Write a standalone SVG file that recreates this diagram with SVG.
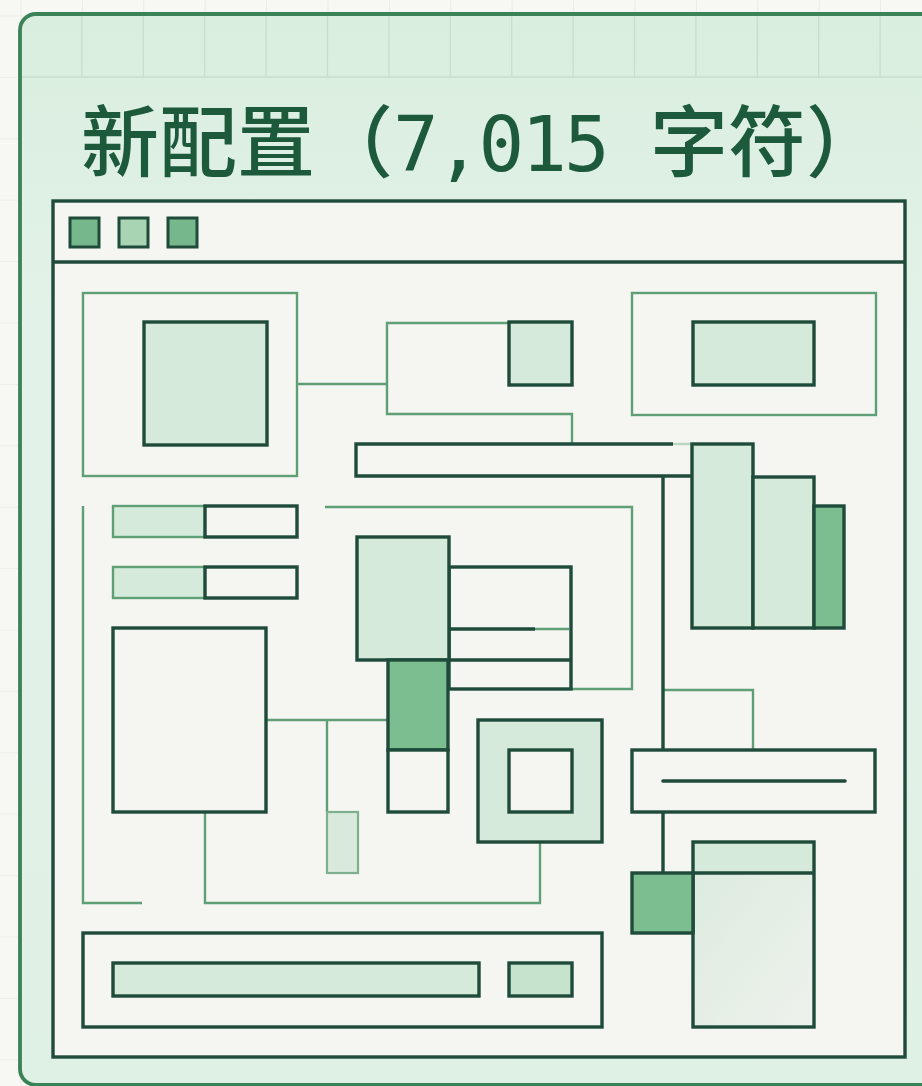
<svg xmlns="http://www.w3.org/2000/svg" width="922" height="1086" viewBox="0 0 922 1086">
  <defs>
    <pattern id="grid" x="20.5" y="15.5" width="61.4" height="61.4" patternUnits="userSpaceOnUse">
      <path d="M0,0 H61.4 M0,0 V61.4" fill="none" stroke="#e3e4df" stroke-width="1.2"/>
    </pattern>
    <linearGradient id="cardFill" x1="0" y1="0" x2="0" y2="1">
      <stop offset="0" stop-color="#d9eedf"/>
      <stop offset="0.3" stop-color="#e3f2e8"/>
      <stop offset="1" stop-color="#dff0e5"/>
    </linearGradient>
    <linearGradient id="paleFill" x1="0" y1="0" x2="1" y2="1">
      <stop offset="0" stop-color="#dcebdf"/>
      <stop offset="1" stop-color="#eef2ec"/>
    </linearGradient>
    <style>
      .dark { fill: none; stroke: #1f4b3b; stroke-width: 3.4; stroke-linejoin: miter; }
      .thin { fill: none; stroke: #5f9f75; stroke-width: 2.4; }
      .lt { fill: #d6eadb; }
      .md { fill: #7cbe90; }
      .wt { fill: #f5f5f1; }
      .title { font-family: "DejaVu Sans Mono", "Noto Sans CJK SC", monospace; font-size: 78px; font-weight: 500; fill: #1d5a3c; }
      .num { font-size: 76px; letter-spacing: -3px; }
    </style>
  </defs>

  <!-- page background and grid -->
  <rect x="0" y="0" width="922" height="1086" fill="#f7f7f4"/>
  <rect x="0" y="0" width="922" height="1086" fill="url(#grid)"/>

  <!-- card -->
  <g id="card">
    <rect x="20" y="14" width="940" height="1071" rx="16" fill="url(#cardFill)" stroke="#3b8258" stroke-width="3.8"/>
    <g stroke="#c9dccf" stroke-width="1.3">
      <path d="M81.9,16 V77 M143.3,16 V77 M204.7,16 V77 M266.1,16 V77 M327.5,16 V77 M388.9,16 V77 M450.3,16 V77 M511.7,16 V77 M573.1,16 V77 M634.5,16 V77 M695.9,16 V77 M757.3,16 V77 M818.7,16 V77 M880.1,16 V77"/>
      <path d="M22,77 H922"/>
    </g>
    <text class="title" y="171"><tspan x="81">新配置（</tspan><tspan class="num" x="393">7,015 </tspan><tspan x="650">字符）</tspan></text>
  </g>

  <!-- window -->
  <g id="window">
    <rect x="53" y="201" width="852" height="856" fill="#f5f5f1" stroke="#1f4b3b" stroke-width="3.4"/>
    <line x1="53" y1="262" x2="905" y2="262" stroke="#1f4b3b" stroke-width="3.4"/>
    <rect x="70" y="218" width="29" height="29" fill="#76b88c" stroke="#1f4b3b" stroke-width="3"/>
    <rect x="119" y="218" width="29" height="29" fill="#a9d4b4" stroke="#1f4b3b" stroke-width="3"/>
    <rect x="168" y="218" width="29" height="29" fill="#76b88c" stroke="#1f4b3b" stroke-width="3"/>
  </g>

  <!-- connectors -->
  <g id="connectors">
    <path class="thin" d="M297,384 H387"/>
    <path class="thin" d="M509,323 H387 V414 H572 V443"/>
    <path class="thin" d="M83,506 V903 H142"/>
    <path class="thin" d="M325,507 H632 V689 H572"/>
    <path class="thin" d="M266,720 H388"/>
    <path class="thin" d="M327,720 V812"/>
    <path class="thin" d="M205,812 V903 H540 V843"/>
    <path class="thin" d="M663,690 H753 V750"/>
    <path class="dark" d="M663,476 V750"/>
    <path class="dark" d="M663,812 V873"/>
  </g>

  <!-- nodes -->
  <g id="node-image-frame">
    <rect class="thin" x="83" y="293" width="214" height="183"/>
    <rect class="lt" x="144" y="322" width="123" height="123"/>
    <rect class="dark" x="144" y="322" width="123" height="123"/>
  </g>

  <g id="node-small-square">
    <rect class="lt" x="509" y="322" width="63" height="63"/>
    <rect class="dark" x="509" y="322" width="63" height="63"/>
  </g>

  <g id="node-banner">
    <rect class="thin" x="632" y="293" width="244" height="122"/>
    <rect class="lt" x="693" y="322" width="121" height="63"/>
    <rect class="dark" x="693" y="322" width="121" height="63"/>
  </g>

  <g id="node-long-bar">
    <rect class="wt" x="356" y="444" width="336" height="32"/>
    <path class="dark" d="M673,444 H356 V476 H692"/>
    <path d="M673,444 H692" stroke="#b9d6c1" stroke-width="2.4"/>
  </g>

  <g id="node-bar-chart">
    <rect class="lt" x="692" y="444" width="61" height="184"/>
    <rect class="dark" x="692" y="444" width="61" height="184"/>
    <rect class="lt" x="753" y="477" width="61" height="151"/>
    <rect class="dark" x="753" y="477" width="61" height="151"/>
    <rect class="md" x="814" y="506" width="30" height="122"/>
    <rect class="dark" x="814" y="506" width="30" height="122"/>
  </g>

  <g id="node-progress-1">
    <rect class="lt" x="113" y="506" width="92" height="31"/>
    <rect class="thin" x="113" y="506" width="92" height="31"/>
    <rect class="wt" x="205" y="506" width="92" height="31"/>
    <rect class="dark" x="205" y="506" width="92" height="31"/>
  </g>

  <g id="node-progress-2">
    <rect class="lt" x="113" y="567" width="92" height="31"/>
    <rect class="thin" x="113" y="567" width="92" height="31"/>
    <rect class="wt" x="205" y="567" width="92" height="31"/>
    <rect class="dark" x="205" y="567" width="92" height="31"/>
  </g>

  <g id="node-stack">
    <rect class="wt" x="449" y="567" width="122" height="122"/>
    <rect class="dark" x="449" y="567" width="122" height="122"/>
    <path class="dark" d="M449,629 H535 M449,660 H571"/>
    <path class="thin" d="M535,629 H569"/>
    <rect class="lt" x="357" y="537" width="92" height="123"/>
    <rect class="dark" x="357" y="537" width="92" height="123"/>
    <rect class="md" x="388" y="660" width="60" height="90"/>
    <rect class="dark" x="388" y="660" width="60" height="90"/>
    <rect class="wt" x="388" y="750" width="60" height="62"/>
    <rect class="dark" x="388" y="750" width="60" height="62"/>
  </g>

  <g id="node-big-panel">
    <rect class="wt" x="113" y="628" width="153" height="184"/>
    <rect class="dark" x="113" y="628" width="153" height="184"/>
  </g>

  <g id="node-small-bar">
    <rect x="327" y="812" width="31" height="61" fill="#d9eadc" stroke="#7fb08e" stroke-width="2.2"/>
  </g>

  <g id="node-square-frame">
    <rect class="lt" x="478" y="720" width="124" height="122"/>
    <rect class="dark" x="478" y="720" width="124" height="122"/>
    <rect class="wt" x="509" y="750" width="63" height="62"/>
    <rect class="dark" x="509" y="750" width="63" height="62"/>
  </g>

  <g id="node-input-bar">
    <rect class="wt" x="632" y="750" width="243" height="62"/>
    <rect class="dark" x="632" y="750" width="243" height="62"/>
    <line x1="663" y1="781" x2="845" y2="781" stroke="#1f4b3b" stroke-width="3.6" stroke-linecap="round"/>
  </g>

  <g id="node-card-panel">
    <rect x="693" y="873" width="121" height="154" fill="url(#paleFill)"/>
    <rect class="lt" x="693" y="842" width="121" height="31"/>
    <rect class="dark" x="693" y="842" width="121" height="185"/>
    <line x1="693" y1="873" x2="814" y2="873" stroke="#1f4b3b" stroke-width="3.4"/>
    <rect class="md" x="632" y="873" width="61" height="60"/>
    <rect class="dark" x="632" y="873" width="61" height="60"/>
  </g>

  <g id="node-footer">
    <rect class="wt" x="83" y="933" width="519" height="94"/>
    <rect class="dark" x="83" y="933" width="519" height="94"/>
    <rect class="lt" x="113" y="963" width="366" height="33"/>
    <rect class="dark" x="113" y="963" width="366" height="33"/>
    <rect x="509" y="963" width="63" height="33" fill="#c6e3cd"/>
    <rect class="dark" x="509" y="963" width="63" height="33"/>
  </g>
</svg>
